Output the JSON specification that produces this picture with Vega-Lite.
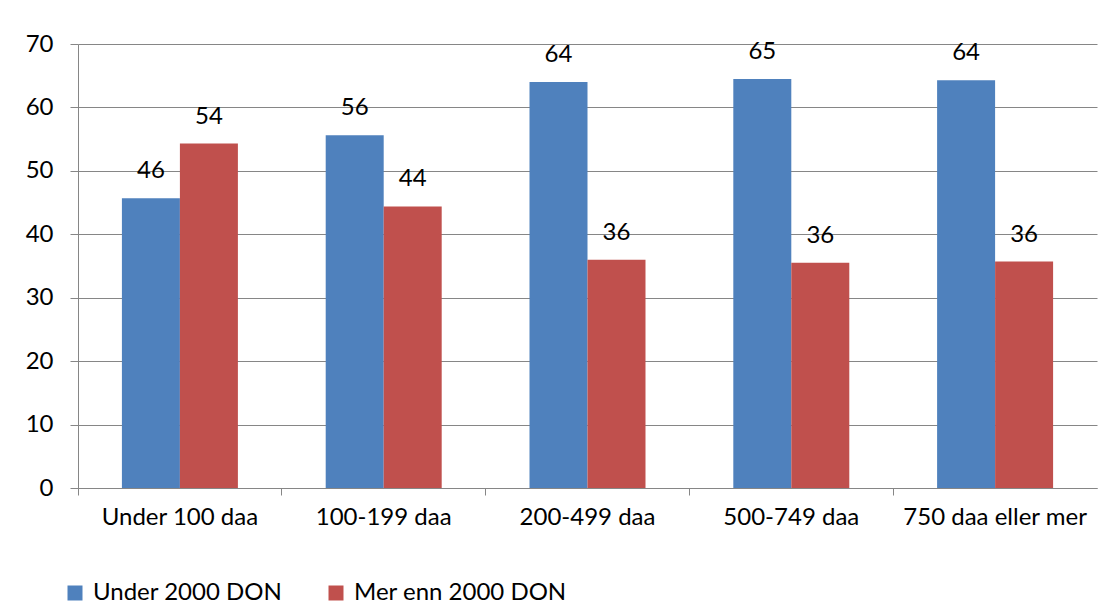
{
  "$schema": "https://vega.github.io/schema/vega-lite/v6.json",
  "autosize": {"type": "none"},
  "width": 1019,
  "height": 444,
  "padding": {"left": 78, "top": 44, "right": 15, "bottom": 120},
  "background": "white",
  "data": {
    "values": [
      {"areal": "Under 100 daa", "gruppe": "Under 2000 DON", "andel": 45.7},
      {"areal": "Under 100 daa", "gruppe": "Mer enn 2000 DON", "andel": 54.3},
      {"areal": "100-199 daa", "gruppe": "Under 2000 DON", "andel": 55.6},
      {"areal": "100-199 daa", "gruppe": "Mer enn 2000 DON", "andel": 44.4},
      {"areal": "200-499 daa", "gruppe": "Under 2000 DON", "andel": 64.0},
      {"areal": "200-499 daa", "gruppe": "Mer enn 2000 DON", "andel": 36.0},
      {"areal": "500-749 daa", "gruppe": "Under 2000 DON", "andel": 64.5},
      {"areal": "500-749 daa", "gruppe": "Mer enn 2000 DON", "andel": 35.5},
      {"areal": "750 daa eller mer", "gruppe": "Under 2000 DON", "andel": 64.3},
      {"areal": "750 daa eller mer", "gruppe": "Mer enn 2000 DON", "andel": 35.7}
    ]
  },
  "encoding": {
    "x": {
      "field": "areal",
      "type": "nominal",
      "sort": null,
      "scale": {"paddingInner": 0, "paddingOuter": 0},
      "axis": {
        "title": null,
        "labelAngle": 0,
        "labelLimit": 0,
        "bandPosition": 0,
        "tickSize": 7,
        "labelPadding": 10,
        "labelFontSize": 24,
        "labelColor": "black",
        "domainColor": "#868686",
        "tickColor": "#868686",
        "grid": false
      }
    },
    "xOffset": {
      "field": "gruppe",
      "type": "nominal",
      "sort": ["Under 2000 DON", "Mer enn 2000 DON"],
      "scale": {"paddingInner": 0, "paddingOuter": 0.757}
    },
    "y": {
      "field": "andel",
      "type": "quantitative",
      "scale": {"domain": [0, 70], "nice": false},
      "axis": {
        "title": null,
        "values": [0, 10, 20, 30, 40, 50, 60, 70],
        "tickSize": 8,
        "labelPadding": 17,
        "labelFontSize": 24,
        "labelColor": "black",
        "domainColor": "#868686",
        "tickColor": "#868686",
        "gridColor": "#868686",
        "grid": true
      }
    }
  },
  "layer": [
    {
      "mark": {"type": "bar"},
      "encoding": {
        "color": {
          "field": "gruppe",
          "type": "nominal",
          "sort": ["Under 2000 DON", "Mer enn 2000 DON"],
          "scale": {"domain": ["Under 2000 DON", "Mer enn 2000 DON"], "range": ["#4F81BD", "#C0504D"]},
          "legend": {
            "title": null,
            "orient": "none",
            "direction": "horizontal",
            "legendX": -15,
            "legendY": 537,
            "padding": 0,
            "symbolType": "square",
            "symbolSize": 225,
            "symbolStrokeWidth": 0,
            "symbolOpacity": 1,
            "labelFontSize": 24,
            "labelLimit": 0,
            "labelColor": "black",
            "labelOffset": 6,
            "columnPadding": 41
          }
        }
      }
    },
    {
      "mark": {"type": "text", "baseline": "alphabetic", "dy": -20, "fontSize": 24, "color": "black"},
      "encoding": {
        "text": {"field": "andel", "type": "quantitative", "format": ".0f"}
      }
    }
  ],
  "config": {
    "font": "Lato",
    "view": {"stroke": null}
  }
}
